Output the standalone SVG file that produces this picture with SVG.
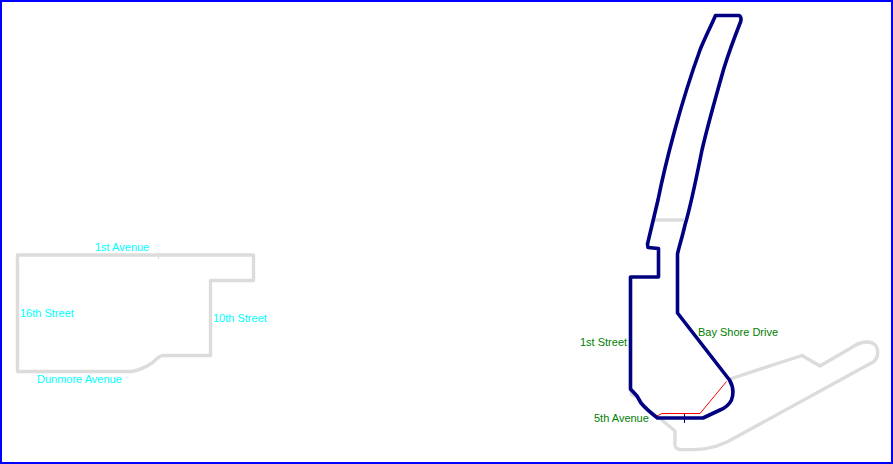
<svg xmlns="http://www.w3.org/2000/svg" width="893" height="464" viewBox="0 0 893 464">
<style>
.g{fill:none;stroke:#dcdcdc;stroke-width:3.4;stroke-linejoin:round}
.b{fill:none;stroke:#000080;stroke-width:3.6;stroke-linejoin:round}
.t{font-family:"Liberation Sans",Arial,sans-serif;font-size:11px}
.c{fill:#00ffff}
.v{fill:#008000}
</style>
<rect x="1" y="1" width="891" height="462" fill="#fff" stroke="#0000ff" stroke-width="2"/>
<g id="parcel-west">
<path class="g" d="M17.500 255H253.500V280.500H210.500V355.500H163C158 356 156 360 152 363C146 367 138 370.500 131 371.500H17.500Z"/>
<path d="M158.500 252V259" stroke="#dcdcdc" stroke-width="1" fill="none"/>
<text class="t c" x="95" y="251">1st Avenue</text>
<text class="t c" x="20" y="317">16th Street</text>
<text class="t c" x="213" y="322">10th Street</text>
<text class="t c" x="37" y="383">Dunmore Avenue</text>
</g>
<g id="parcel-east-grey">
<path class="g" d="M730 379L802 355.500L820 366L855 345.500C862 341 872 340.500 876 346C879 351 878 359 873 362L727 442C712 449 700 450 680 449.500C675 449 674.500 446 675 441V431L657 416"/>
<path class="g" d="M654 220H684"/>
<path class="g" d="M630 389L632 395L637 397"/>
</g>
<g id="parcel-east">
<path d="M657 416L662 413.500H700L726.500 381.500" fill="none" stroke="#ff0000" stroke-width="1"/>
<path class="b" d="M715.500 15.500H739C741 16 741.500 19 740.500 22C735 36 729 52 724 68C716 96 708 124 702 150C696 180 691 205 685 225C682 238 679 247 677.500 254V313L729.500 380C733 386 734 393 731.500 400C729 405 725 408 720 410L703 418H657.500C651 413 646 409 641 403L637 396L630.500 389V277H658.500V248.500L648 247.500L647.500 244L658 200C665 165 680 105 700 50C704 40 710 28 715.500 15.500Z"/>
<path d="M684.500 414V423" stroke="#000080" stroke-width="1" fill="none"/>
<text class="t v" x="580" y="346">1st Street</text>
<text class="t v" x="698" y="336">Bay Shore Drive</text>
<text class="t v" x="594" y="422">5th Avenue</text>
</g>
</svg>
